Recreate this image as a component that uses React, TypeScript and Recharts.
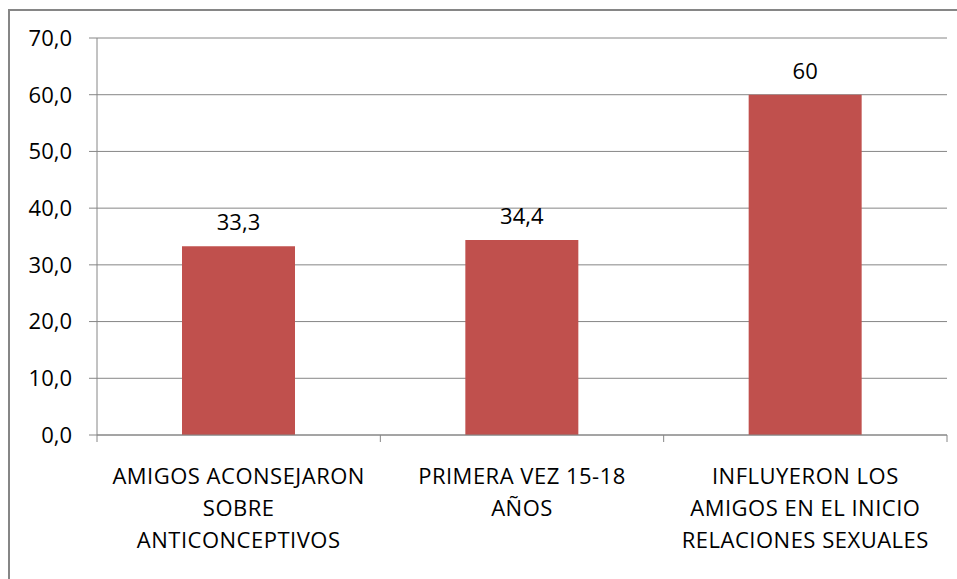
import { Bar, BarChart, CartesianGrid, LabelList, XAxis, YAxis } from "recharts";

const categories = ["AMIGOS ACONSEJARON SOBRE ANTICONCEPTIVOS", "PRIMERA VEZ 15-18 AÑOS", "INFLUYERON LOS AMIGOS EN EL INICIO RELACIONES SEXUALES"];
const categoryLines = [
  ["AMIGOS ACONSEJARON", "SOBRE", "ANTICONCEPTIVOS"],
  ["PRIMERA VEZ 15-18", "AÑOS"],
  ["INFLUYERON LOS", "AMIGOS EN EL INICIO", "RELACIONES SEXUALES"],
];
const values = [33.3, 34.4, 60];
const valueLabels = ["33,3", "34,4", "60"];
const yTicks = [0, 10, 20, 30, 40, 50, 60, 70];

const data = categories.map((name, i) => ({ name, value: values[i], label: valueLabels[i] }));

const FONT = "'Open Sans', sans-serif";
const GRAY = "#868686";

// category label plus the tick marks that Excel puts between categories
const XTick = (props: any) => {
  const { x, y, payload, index, width, visibleTicksCount } = props;
  const count = visibleTicksCount || categories.length;
  const band = (Number(width) || 850) / count;
  const lines = categoryLines[payload.index ?? index] || [];
  return (
    <g>
      <line x1={x - band / 2} x2={x - band / 2} y1={y} y2={y + 7} stroke={GRAY} strokeWidth={1} />
      {index === count - 1 && (
        <line x1={x + band / 2} x2={x + band / 2} y1={y} y2={y + 7} stroke={GRAY} strokeWidth={1} />
      )}
      {lines.map((line, i) => (
        <text key={i} x={x} y={y + 49 + i * 32} textAnchor="middle" fontSize={22} fill="#000" fontFamily={FONT} letterSpacing={0.5}>
          {line}
        </text>
      ))}
    </g>
  );
};

export default function App() {
  return (
    <div style={{ position: "absolute", left: 0, top: 0, width: 957, height: 579, overflow: "hidden", background: "#fff" }}>
      <div style={{ position: "absolute", left: 8, top: 9, width: 980, height: 600, border: `2px solid ${GRAY}` }} />
      <BarChart
        width={957}
        height={579}
        data={data}
        margin={{ top: 38, right: 10, bottom: 114, left: 0 }}
        style={{ position: "absolute", left: 0, top: 0 }}
      >
        <CartesianGrid vertical={false} stroke={GRAY} strokeWidth={1} />
        <YAxis
          width={97}
          domain={[0, 70]}
          ticks={yTicks}
          tickFormatter={(v: number) => v.toFixed(1).replace(".", ",")}
          tick={{ fontSize: 22, fill: "#000", fontFamily: FONT }}
          tickSize={8}
          tickMargin={17}
          stroke={GRAY}
          tickLine={{ stroke: GRAY }}
          axisLine={{ stroke: GRAY }}
        />
        <XAxis
          dataKey="name"
          height={30}
          interval={0}
          tick={<XTick />}
          tickLine={false}
          tickSize={0}
          tickMargin={0}
          stroke={GRAY}
          axisLine={{ stroke: GRAY }}
        />
        <Bar dataKey="value" fill="#C0504D" barSize={113} isAnimationActive={false}>
          <LabelList dataKey="label" position="top" offset={16} fontSize={22} fill="#000" fontFamily={FONT} />
        </Bar>
      </BarChart>
    </div>
  );
}
